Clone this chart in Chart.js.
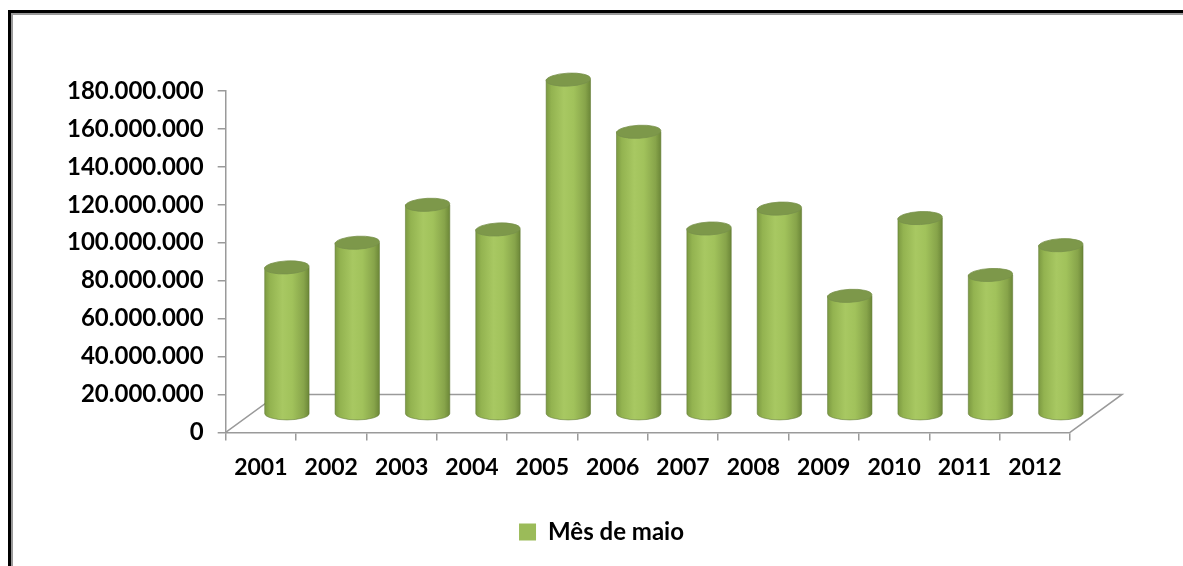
<!DOCTYPE html>
<html>
<head>
<meta charset="utf-8">
<script src="https://cdn.jsdelivr.net/npm/chart.js@4"></script>
<style>
  html, body { margin: 0; padding: 0; background: #fff; overflow: hidden; }
  #wrap { position: relative; width: 1183px; height: 566px; }
  #frame {
    position: absolute; left: 8px; top: 10px; width: 2000px; height: 1000px;
    border-left: 3px solid #000; border-top: 3px solid #000;
    box-shadow: inset 2px 2px 0 #9a9a9a;
  }
  canvas { position: absolute; left: 0; top: 0; }
</style>
</head>
<body>
<div id="wrap">
  <div id="frame"></div>
  <canvas id="grafico" width="1183" height="566"></canvas>
</div>
<script>
// dados
const anos = ['2001', '2002', '2003', '2004', '2005', '2006', '2007', '2008', '2009', '2010', '2011', '2012'];
const valoresMaio = [77000000, 90000000, 110000000, 97000000, 176000000, 148500000, 97500000, 108000000, 62000000, 103000000, 73000000, 88700000];
const ticksY = [0, 20000000, 40000000, 60000000, 80000000, 100000000, 120000000, 140000000, 160000000, 180000000];
const nomeSerie = 'Mês de maio';

// profundidade do "piso" 3D, em unidades das escalas
const profY = 10000000;
const profX = 0.37;

function formatar(v) {
    return String(v).replace(/\B(?=(\d{3})+(?!\d))/g, '.');
}

// piso em perspectiva (desenhado antes das barras)
const pisoPlugin = {
    id: 'piso',
    afterLayout(chart) {
        // legenda um pouco à direita, como no original
        chart.legend.left += 40;
        chart.legend.right += 40;
    },
    beforeDatasetsDraw(chart) {
        const sx = chart.scales.x, sy = chart.scales.y;
        const bx = chart.scales.xb, by = chart.scales.yb;
        const y0 = sy.getPixelForValue(0);
        const dx = (bx.getPixelForValue(-0.5) - sx.left) * 2;
        const dy = (by.getPixelForValue(0) - y0) * 2;
        const ctx = chart.ctx;
        ctx.save();
        ctx.strokeStyle = '#9a9a9a';
        ctx.lineWidth = 1.5;
        ctx.beginPath();
        ctx.moveTo(sx.left, y0);
        ctx.lineTo(sx.left + dx, y0 + dy);
        ctx.lineTo(sx.right + dx, y0 + dy);
        ctx.lineTo(sx.right, y0);
        ctx.stroke();
        ctx.restore();
    }
};

// barras em forma de cilindro
const cilindroPlugin = {
    id: 'cilindro',
    beforeDatasetDraw(chart, args) {
        const ctx = chart.ctx;
        const meta = args.meta;
        ctx.save();
        meta.data.forEach(function(bar) {
            const p = bar.getProps(['x', 'y', 'base', 'width'], true);
            const rx = p.width / 2, ry = 6.5;
            const g = ctx.createLinearGradient(p.x - rx, 0, p.x + rx, 0);
            g.addColorStop(0, '#7c9a42');
            g.addColorStop(0.12, '#93b350');
            g.addColorStop(0.4, '#a8c862');
            g.addColorStop(0.62, '#a1c25b');
            g.addColorStop(0.88, '#87a44a');
            g.addColorStop(1, '#6c8738');
            ctx.beginPath();
            ctx.moveTo(p.x - rx, p.y);
            ctx.lineTo(p.x - rx, p.base);
            ctx.ellipse(p.x, p.base, rx, ry, 0, Math.PI, 0, true);
            ctx.lineTo(p.x + rx, p.y);
            ctx.closePath();
            ctx.fillStyle = g;
            ctx.fill();
            ctx.strokeStyle = 'rgba(95,120,50,0.55)';
            ctx.lineWidth = 1;
            ctx.stroke();

            ctx.beginPath();
            ctx.ellipse(p.x, p.y, rx, ry, -0.05, 0, Math.PI * 2);
            ctx.fillStyle = '#7d984a';
            ctx.fill();
            ctx.strokeStyle = 'rgba(120,145,75,0.8)';
            ctx.stroke();
        });
        ctx.restore();
        return false;
    }
};

const ctx = document.getElementById('grafico').getContext('2d');
const familia = 'Lato, "Open Sans", sans-serif';

new Chart(ctx, {
    type: 'bar',
    data: {
        labels: anos,
        datasets: [{
            label: nomeSerie,
            data: valoresMaio.map(function(v, i) { return { x: i, y: v }; }),
            xAxisID: 'xb',
            yAxisID: 'yb',
            backgroundColor: '#9bbb59',
            barPercentage: 0.725,
            categoryPercentage: 1
        }]
    },
    options: {
        responsive: false,
        animation: false,
        layout: { padding: { left: 53, right: 113, top: 91, bottom: 12 } },
        plugins: {
            tooltip: { enabled: false },
            legend: {
                position: 'bottom',
                labels: {
                    color: '#000',
                    font: { family: familia, size: 24, weight: 'bold' },
                    boxWidth: 17,
                    boxHeight: 17,
                    padding: 26
                }
            }
        },
        scales: {
            x: {
                type: 'category',
                labels: anos,
                offset: true,
                grid: { display: true, offset: true, drawOnChartArea: false, color: '#9a9a9a', lineWidth: 1.5, tickLength: 8 },
                border: { color: '#9a9a9a', width: 1.5 },
                ticks: { color: '#000', font: { family: familia, size: 23, weight: 'bold' }, padding: 13, maxRotation: 0 }
            },
            y: {
                type: 'linear',
                min: 0,
                max: 180000000,
                afterBuildTicks(axis) { axis.ticks = ticksY.map(function(v) { return { value: v }; }); },
                grid: { display: true, drawOnChartArea: false, color: '#9a9a9a', lineWidth: 1.5, tickLength: 8 },
                border: { color: '#9a9a9a', width: 1.5 },
                ticks: { color: '#000', font: { family: familia, size: 24, weight: 'bold' }, padding: 14, callback: formatar }
            },
            xb: {
                type: 'linear',
                display: false,
                offset: false,
                min: -0.5 - profX,
                max: anos.length - 0.5 - profX
            },
            yb: {
                type: 'linear',
                display: false,
                min: -profY,
                max: 180000000 - profY
            }
        }
    },
    plugins: [pisoPlugin, cilindroPlugin]
});
</script>
</body>
</html>
